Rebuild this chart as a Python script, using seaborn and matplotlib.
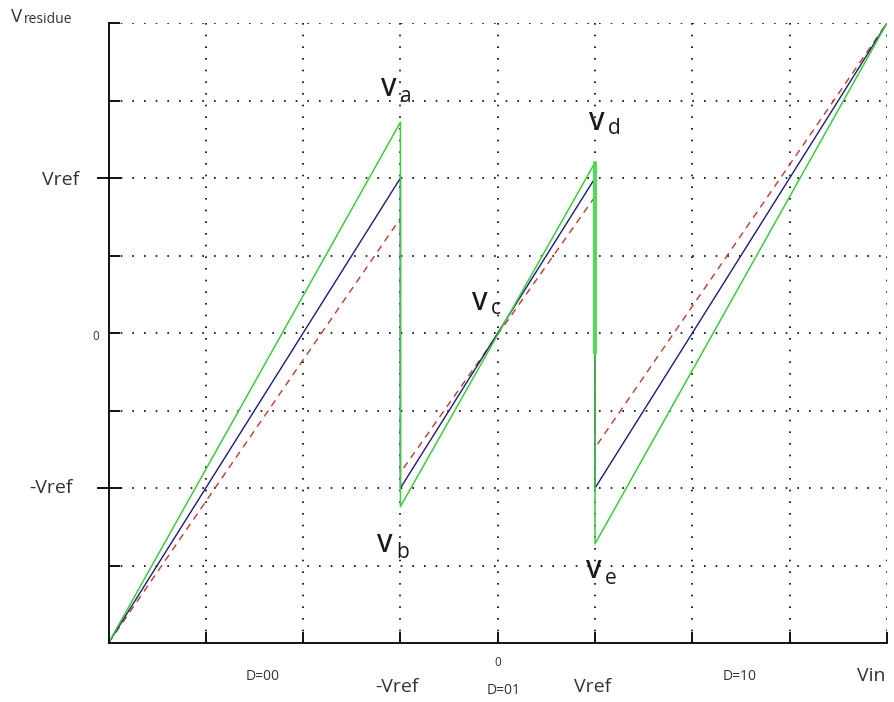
import matplotlib
matplotlib.use("Agg")
import matplotlib.pyplot as plt
import seaborn as sns
import pandas as pd

sns.set_style("white")
plt.rcParams['font.family'] = ['Open Sans', 'DejaVu Sans']

# Data (Vin and Vresidue in units of Vref-scale grid)
vin_pts = [-4, -1, -1, 1, 1, 4]
ideal_res = [-2, 1.0, -1.0, 1.0, -1.0, 2]
high_gain_res = [-2, 1.36, -1.12, 1.10, -1.36, 2]
low_gain_res = [-2, 0.74, -0.90, 0.88, -0.74, 2]
highlight_x = [1, 1]
highlight_y = [1.10, -0.13]

x_grid = [-3, -2, -1, 0, 1, 2, 3, 4]
y_grid = [-1.5, -1, -0.5, 0, 0.5, 1, 1.5, 2]

fig = plt.figure(figsize=(8.94, 7.02), dpi=100)
ax = fig.add_axes([108.5 / 894, (702 - 643) / 702, (887 - 108.5) / 894, (643 - 23) / 702])

df = pd.DataFrame({"x": vin_pts, "ideal": ideal_res, "hi": high_gain_res, "lo": low_gain_res})
sns.lineplot(data=df, x="x", y="lo", sort=False, ax=ax, color="#c0392b", lw=1.0,
             linestyle=(0, (5, 4)), estimator=None)
sns.lineplot(data=df, x="x", y="ideal", sort=False, ax=ax, color="#1c1c7a", lw=1.0, estimator=None)
sns.lineplot(data=df, x="x", y="hi", sort=False, ax=ax, color="#3ccc3c", lw=1.1, estimator=None)
sns.lineplot(x=highlight_x, y=highlight_y, sort=False, ax=ax, color="#55d855", lw=3.0, estimator=None)

ax.set_xlim(-4, 4)
ax.set_ylim(-2, 2)

for gx in x_grid:
    ax.axvline(gx, color="black", lw=1.2, linestyle=(0, (1, 6)), zorder=0)
for gy in y_grid:
    ax.axhline(gy, color="black", lw=1.2, linestyle=(0, (1, 6)), zorder=0)

for s in ["top", "right"]:
    ax.spines[s].set_visible(False)
for s in ["left", "bottom"]:
    ax.spines[s].set_linewidth(1.3)
    ax.spines[s].set_color("black")

ax.set_xticks([-3, -2, -1, 0, 1, 2, 3, 4])
ax.set_yticks([-1.5, -0.5, 0, 0.5, 1.5, 2])
ax.set_xticks([-1, 1], minor=True)
ax.set_yticks([-1, 1], minor=True)
ax.tick_params(which="major", direction="in", length=8, width=1.3, color="black",
               bottom=True, left=True, labelbottom=False, labelleft=False)
ax.tick_params(axis="x", which="minor", direction="out", length=19, width=1.3, color="black",
               bottom=True, labelbottom=False)
ax.tick_params(axis="y", which="minor", direction="inout", length=17, width=1.3, color="black",
               left=True, labelleft=False)
ax.set_xlabel("")
ax.set_ylabel("")

# Axis texts
tc = "#333333"
fig.text(11 / 894, 1 - 17 / 702, "V", fontsize=13.5, color=tc, va="center", ha="left")
fig.text(24 / 894, 1 - 19.5 / 702, "residue", fontsize=10, color=tc, va="center", ha="left")
fig.text(79 / 894, 1 - 180 / 702, "Vref", fontsize=14, color=tc, va="center", ha="right")
fig.text(99 / 894, 1 - 336 / 702, "0", fontsize=8.5, color=tc, va="center", ha="right")
fig.text(73 / 894, 1 - 488 / 702, "-Vref", fontsize=14, color=tc, va="center", ha="right")

fig.text(263 / 894, 1 - 676 / 702, "D=00", fontsize=10, color=tc, va="center", ha="center")
fig.text(397 / 894, 1 - 687 / 702, "-Vref", fontsize=14, color=tc, va="center", ha="center")
fig.text(498 / 894, 1 - 663 / 702, "0", fontsize=8.5, color=tc, va="center", ha="center")
fig.text(504 / 894, 1 - 690 / 702, "D=01", fontsize=10, color=tc, va="center", ha="center")
fig.text(593 / 894, 1 - 687 / 702, "Vref", fontsize=14, color=tc, va="center", ha="center")
fig.text(740 / 894, 1 - 676 / 702, "D=10", fontsize=10, color=tc, va="center", ha="center")
fig.text(871 / 894, 1 - 676 / 702, "Vin", fontsize=14, color=tc, va="center", ha="center")

# Point annotations
def vlabel(x, y, sub):
    fig.text(x / 894, 1 - y / 702, "V", fontsize=18, color="#1a1a1a", va="center", ha="left",
             fontweight="semibold")
    fig.text((x + 19) / 894, 1 - (y + 6) / 702, sub, fontsize=15, color="#1a1a1a", va="center",
             ha="left")

vlabel(381, 90, "a")
vlabel(377, 546, "b")
vlabel(472, 303, "c")
vlabel(589, 123, "d")
vlabel(586, 572, "e")

fig.savefig("out.png", dpi=100)
